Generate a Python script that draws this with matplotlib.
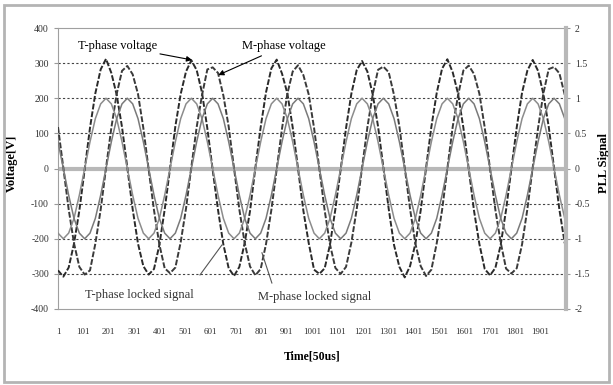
import matplotlib
matplotlib.use('Agg')
import matplotlib.pyplot as plt
import numpy as np
from matplotlib.patches import Rectangle

plt.rcParams['font.family'] = ['Liberation Serif', 'DejaVu Serif']
plt.rcParams['axes.unicode_minus'] = False

# sample index (Time[50us]), one point every 21 samples
time = np.arange(1, 2001, 21)

t_voltage = [
    -290, -308, -282, -214, -120, -3, 116, 214, 282, 312, 272, 210, 118, 2, -116, -214,
    -278, -302, -286, -218, -117, 0, 120, 212, 276, 308, 280, 216, 114, -4, -118, -216,
    -284, -306, -280, -212, -121, 2, 118, 217, 285, 310, 270, 214, 117, 0, -120, -212,
    -288, -300, -284, -216, -116, -2, 115, 213, 280, 306, 276, 211, 120, 3, -115, -218,
    -280, -310, -278, -214, -119, 1, 119, 215, 284, 311, 274, 213, 116, -1, -121, -215,
    -286, -304, -283, -217, -118, -1, 117, 216, 279, 309, 278, 212, 119, 1, -117, -213,
]
m_voltage = [
    118, 2, -116, -213, -280, -302, -290, -214, -117, 1, 116, 212, 278, 292, 268, 212,
    115, -3, -119, -216, -284, -298, -282, -210, -114, 4, 118, 209, 282, 288, 272, 208,
    119, 1, -117, -212, -279, -304, -286, -215, -118, -2, 114, 213, 276, 294, 266, 211,
    116, -1, -120, -217, -283, -300, -280, -211, -116, 2, 117, 211, 281, 290, 274, 209,
    120, 3, -115, -214, -278, -306, -288, -213, -119, 0, 119, 208, 279, 293, 269, 213,
    117, -2, -118, -211, -285, -299, -284, -216, -115, 3, 115, 214, 283, 289, 271, 210,
]
t_locked = [
    -0.92, -1.0, -0.92, -0.71, -0.38, 0.0, 0.38, 0.71, 0.92, 1.0, 0.92, 0.71, 0.38, 0.0, -0.38, -0.71,
    -0.92, -1.0, -0.92, -0.71, -0.38, 0.0, 0.38, 0.71, 0.92, 1.0, 0.92, 0.71, 0.38, 0.0, -0.38, -0.71,
    -0.92, -1.0, -0.92, -0.71, -0.38, 0.0, 0.38, 0.71, 0.92, 1.0, 0.92, 0.71, 0.38, 0.0, -0.38, -0.71,
    -0.92, -1.0, -0.92, -0.71, -0.38, 0.0, 0.38, 0.71, 0.92, 1.0, 0.92, 0.71, 0.38, 0.0, -0.38, -0.71,
    -0.92, -1.0, -0.92, -0.71, -0.38, 0.0, 0.38, 0.71, 0.92, 1.0, 0.92, 0.71, 0.38, 0.0, -0.38, -0.71,
    -0.92, -1.0, -0.92, -0.71, -0.38, 0.0, 0.38, 0.71, 0.92, 1.0, 0.92, 0.71, 0.38, 0.0, -0.38, -0.71,
]
m_locked = [
    0.38, 0.0, -0.38, -0.71, -0.92, -1.0, -0.92, -0.71, -0.38, 0.0, 0.38, 0.71, 0.92, 1.0, 0.92, 0.71,
    0.38, 0.0, -0.38, -0.71, -0.92, -1.0, -0.92, -0.71, -0.38, 0.0, 0.38, 0.71, 0.92, 1.0, 0.92, 0.71,
    0.38, 0.0, -0.38, -0.71, -0.92, -1.0, -0.92, -0.71, -0.38, 0.0, 0.38, 0.71, 0.92, 1.0, 0.92, 0.71,
    0.38, 0.0, -0.38, -0.71, -0.92, -1.0, -0.92, -0.71, -0.38, 0.0, 0.38, 0.71, 0.92, 1.0, 0.92, 0.71,
    0.38, 0.0, -0.38, -0.71, -0.92, -1.0, -0.92, -0.71, -0.38, 0.0, 0.38, 0.71, 0.92, 1.0, 0.92, 0.71,
    0.38, 0.0, -0.38, -0.71, -0.92, -1.0, -0.92, -0.71, -0.38, 0.0, 0.38, 0.71, 0.92, 1.0, 0.92, 0.71,
]

x_ticks = list(range(1, 2000, 100))
v_ticks = [-400, -300, -200, -100, 0, 100, 200, 300, 400]
pll_ticks = [-2, -1.5, -1, -0.5, 0, 0.5, 1, 1.5, 2]

fig = plt.figure(figsize=(6.13, 3.85), dpi=100)
fig.patches.append(Rectangle((0.006, 0.008), 0.988, 0.978, transform=fig.transFigure,
                             fill=False, edgecolor='#b4b4b4', lw=2))

ax = fig.add_axes([58 / 613, 1 - 309 / 385, 508 / 613, 281 / 385])
ax2 = ax.twinx()

# gridlines and zero line
for v in v_ticks[1:-1]:
    if v == 0:
        ax.axhline(0, color='#b8b8b8', lw=3, zorder=1)
    else:
        ax.axhline(v, color='#444444', lw=0.8, ls=(0, (2, 2)), zorder=1)

ax.plot(time, t_voltage, color='#2a2a2a', lw=1.4, ls=(0, (3, 1)), zorder=3)
ax.plot(time, m_voltage, color='#3a3a3a', lw=1.4, ls=(0, (3, 1)), zorder=3)
ax2.plot(time, t_locked, color='#8c8c8c', lw=1.1, zorder=2)
ax2.plot(time, m_locked, color='#7a7a7a', lw=1.1, zorder=2)

ax.set_xlim(1, 2001)
ax.set_ylim(-400, 400)
ax2.set_ylim(-2, 2)
ax.set_xticks(x_ticks)
ax.set_xticklabels([str(t) for t in x_ticks])
ax.set_yticks(v_ticks)
ax2.set_yticks(pll_ticks)
ax2.set_yticklabels(['-2', '-1.5', '-1', '-0.5', '0', '0.5', '1', '1.5', '2'])

ax.tick_params(axis='x', length=0, pad=14, labelsize=6.5, colors='#333333')
ax.tick_params(axis='y', length=3, width=0.8, color='#999999', labelsize=7, labelcolor='#333333')
ax2.tick_params(axis='y', length=3, width=0.8, color='#999999', labelsize=7, labelcolor='#333333')

for s in ['top', 'left', 'bottom']:
    ax.spines[s].set_color('#a0a0a0')
    ax2.spines[s].set_visible(False)
ax.spines['right'].set_visible(False)
ax2.spines['right'].set_color('#b8b8b8')
ax2.spines['right'].set_linewidth(3)

ax.set_xlabel('Time[50us]', fontsize=8.5, fontweight='bold', labelpad=10)
ax.set_ylabel('Voltage[V]', fontsize=9, fontweight='bold')
ax2.set_ylabel('PLL Signal', fontsize=9, fontweight='bold', rotation=90)
ax.yaxis.set_label_coords(-0.079, 0.52)
ax2.yaxis.set_label_coords(1.063, 0.52)

ax.annotate('T-phase voltage', xy=(529, 309), xytext=(80, 349), fontsize=9,
            va='center', ha='left',
            arrowprops=dict(arrowstyle='-|>', color='black', lw=0.8, mutation_scale=8,
                            shrinkA=0, shrinkB=0))
ax.annotate('M-phase voltage', xy=(632, 266), xytext=(725, 349), fontsize=9,
            va='center', ha='left',
            arrowprops=dict(arrowstyle='-|>', color='black', lw=0.8, mutation_scale=8,
                            shrinkA=2, shrinkB=0))
ax.annotate('T-phase locked signal', xy=(646, -218), xytext=(107, -360), fontsize=9,
            va='center', ha='left', color='#333333')
ax.plot([560, 646], [-303, -218], color='#555555', lw=0.8, zorder=4)
ax.annotate('M-phase locked signal', xy=(804, -240), xytext=(788, -366), fontsize=9,
            va='center', ha='left', color='#333333')
ax.plot([843, 804], [-326, -240], color='#555555', lw=0.8, zorder=4)

fig.savefig('out.png', dpi=100)
